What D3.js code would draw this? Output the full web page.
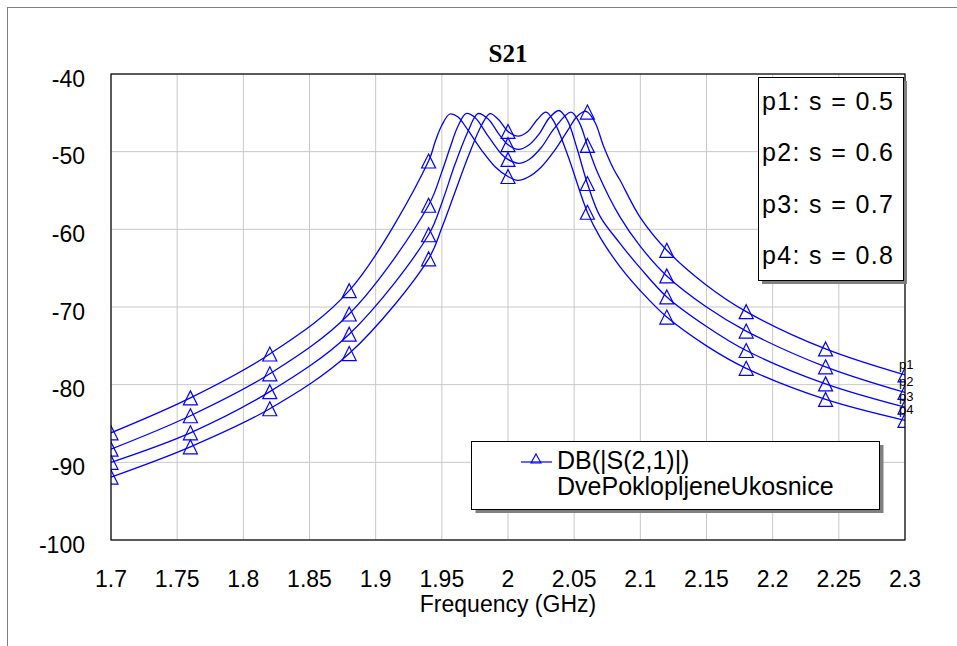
<!DOCTYPE html>
<html>
<head>
<meta charset="utf-8">
<script src="https://cdn.jsdelivr.net/npm/d3@7"></script>
<style>
  body { margin: 0; background: #fff; }
  text { font-family: "Liberation Sans", Arial, sans-serif; }
</style>
</head>
<body>
<div id="chart"></div>
<script>
// Data: [frequency GHz, dB]
const p1Data = [[1.70,-86.2],[1.76,-81.7],[1.82,-76.05],[1.88,-67.9],[1.94,-51.2],[1.945,-48.7],[1.95,-46.6],[1.956,-45.15],[1.962,-45.5],[1.97,-47.3],[1.98,-49.8],[1.99,-51.9],[2.00,-53.2],[2.0075,-53.7],[2.015,-53.3],[2.025,-52.0],[2.035,-49.9],[2.045,-47.3],[2.052,-45.5],[2.058,-44.8],[2.06,-44.9],[2.066,-46.3],[2.072,-49.2],[2.08,-52.3],[2.0846,-53.65],[2.10,-58.5],[2.12,-62.7],[2.15,-67.2],[2.18,-70.6],[2.24,-75.4],[2.30,-78.75]];
const p2Data = [[1.70,-88.3],[1.76,-84.0],[1.82,-78.6],[1.88,-70.9],[1.94,-56.9],[1.95,-52.6],[1.956,-49.6],[1.962,-46.8],[1.9683,-45.1],[1.975,-45.6],[1.985,-48.0],[1.995,-50.3],[2.00,-51.0],[2.008,-51.5],[2.016,-51.0],[2.025,-49.5],[2.035,-47.0],[2.0476,-44.9],[2.054,-46.3],[2.06,-49.2],[2.068,-52.8],[2.0846,-58.4],[2.10,-62.2],[2.12,-66.0],[2.15,-70.0],[2.18,-73.1],[2.24,-77.7],[2.30,-81.0]];
const p3Data = [[1.70,-90.0],[1.76,-86.2],[1.82,-80.9],[1.88,-73.5],[1.94,-60.7],[1.95,-56.6],[1.96,-51.6],[1.97,-47.3],[1.9773,-45.1],[1.985,-45.8],[1.993,-47.7],[2.00,-49.1],[2.008,-49.7],[2.016,-49.1],[2.024,-47.6],[2.031,-45.7],[2.0385,-44.7],[2.045,-46.0],[2.052,-49.5],[2.06,-54.1],[2.0695,-58.3],[2.0846,-61.8],[2.10,-65.0],[2.12,-68.7],[2.15,-72.5],[2.18,-75.6],[2.24,-79.9],[2.30,-82.9]];
const p4Data = [[1.70,-91.9],[1.76,-88.0],[1.82,-83.1],[1.88,-76.0],[1.94,-63.8],[1.95,-59.8],[1.96,-55.2],[1.97,-50.6],[1.98,-46.6],[1.9864,-45.1],[1.993,-45.9],[2.00,-47.4],[2.0076,-48.0],[2.015,-47.4],[2.022,-45.9],[2.0287,-44.9],[2.035,-46.2],[2.045,-50.4],[2.06,-57.8],[2.0695,-61.0],[2.0846,-64.8],[2.10,-67.9],[2.12,-71.3],[2.15,-75.0],[2.18,-77.9],[2.24,-81.9],[2.30,-84.6]];

const seriesNames = ["p1", "p2", "p3", "p4"];
const seriesLabels = ["p1: s = 0.5", "p2: s = 0.6", "p3: s = 0.7", "p4: s = 0.8"];
const markerFreqs = [1.70, 1.76, 1.82, 1.88, 1.94, 2.00, 2.06, 2.12, 2.18, 2.24, 2.30];
const xTicks = [1.7, 1.75, 1.8, 1.85, 1.9, 1.95, 2, 2.05, 2.1, 2.15, 2.2, 2.25, 2.3];
const yTicks = [-40, -50, -60, -70, -80, -90, -100];
const titleText = "S21";
const xTitle = "Frequency (GHz)";
const legendLines = ["DB(|S(2,1)|)", "DvePoklopljeneUkosnice"];

const allSeries = [p1Data, p2Data, p3Data, p4Data];

// Layout
const width = 957, height = 646;
const plot = { left: 111, top: 74, right: 905, bottom: 540 };
const blue = "#0000ff";

const svg = d3.select("#chart")
    .append("svg")
    .attr("width", width)
    .attr("height", height);

// Outer frame (only top and left edges are inside the window)
svg.append("rect")
    .attr("x", 7.5).attr("y", 7.5)
    .attr("width", 1100).attr("height", 1000)
    .attr("fill", "none")
    .attr("stroke", "#808080");

// Scales
const x = d3.scaleLinear().domain([1.7, 2.3]).range([plot.left, plot.right]);
const y = d3.scaleLinear().domain([-100, -40]).range([plot.bottom, plot.top]);

// Grid
svg.append("g").selectAll("line")
    .data(xTicks)
    .enter().append("line")
    .attr("x1", d => x(d)).attr("x2", d => x(d))
    .attr("y1", plot.top).attr("y2", plot.bottom)
    .attr("stroke", "#c8c8c8");

svg.append("g").selectAll("line")
    .data(yTicks)
    .enter().append("line")
    .attr("x1", plot.left).attr("x2", plot.right)
    .attr("y1", d => y(d)).attr("y2", d => y(d))
    .attr("stroke", "#c8c8c8");

// Tick labels
svg.append("g").selectAll("text")
    .data(yTicks)
    .enter().append("text")
    .attr("x", 85)
    .attr("y", d => y(d) + 12.5)
    .attr("text-anchor", "end")
    .style("font-size", "23px")
    .text(d => d);

svg.append("g").selectAll("text")
    .data(xTicks)
    .enter().append("text")
    .attr("x", d => x(d))
    .attr("y", plot.bottom + 47)
    .attr("text-anchor", "middle")
    .style("font-size", "23px")
    .text(d => String(d));

// Axis title and chart title
svg.append("text")
    .attr("x", (plot.left + plot.right) / 2)
    .attr("y", 612)
    .attr("text-anchor", "middle")
    .style("font-size", "23px")
    .text(xTitle);

svg.append("text")
    .attr("x", (plot.left + plot.right) / 2)
    .attr("y", 62)
    .attr("text-anchor", "middle")
    .style("font-family", "'Liberation Serif', 'Times New Roman', serif")
    .style("font-size", "25px")
    .style("font-weight", "bold")
    .text(titleText);

// Clip to plot area
svg.append("clipPath").attr("id", "plotClip")
    .append("rect")
    .attr("x", plot.left).attr("y", plot.top)
    .attr("width", plot.right - plot.left)
    .attr("height", plot.bottom - plot.top);

const curves = svg.append("g").attr("clip-path", "url(#plotClip)");

const line = d3.line()
    .x(d => x(d[0]))
    .y(d => y(d[1]))
    .curve(d3.curveCatmullRom.alpha(0.5));

const tri = "M0,-7L7,7L-7,7Z";

allSeries.forEach(data => {
    curves.append("path")
        .datum(data)
        .attr("d", line)
        .attr("fill", "none")
        .attr("stroke", blue)
        .attr("stroke-width", 1.3);

    curves.selectAll(null)
        .data(data.filter(d => markerFreqs.some(f => Math.abs(f - d[0]) < 1e-6)))
        .enter().append("path")
        .attr("d", tri)
        .attr("transform", d => `translate(${x(d[0])},${y(d[1])})`)
        .attr("fill", "none")
        .attr("stroke", blue)
        .attr("stroke-width", 1.2);
});

// Plot frame
svg.append("rect")
    .attr("x", plot.left).attr("y", plot.top)
    .attr("width", plot.right - plot.left)
    .attr("height", plot.bottom - plot.top)
    .attr("fill", "none")
    .attr("stroke", "#000")
    .attr("stroke-width", 1.2);

// Series end labels
allSeries.forEach((data, i) => {
    const last = data[data.length - 1];
    svg.append("text")
        .attr("x", x(last[0]) - 6)
        .attr("y", y(last[1]) - 6)
        .style("font-size", "13px")
        .text(seriesNames[i]);
});

// Parameter legend (top right)
svg.append("rect")
    .attr("x", 762).attr("y", 81)
    .attr("width", 145).attr("height", 203)
    .attr("fill", "#808080");
svg.append("rect")
    .attr("x", 758.5).attr("y", 77.5)
    .attr("width", 145).attr("height", 203)
    .attr("fill", "#fff")
    .attr("stroke", "#000");

svg.append("g").selectAll("text")
    .data(seriesLabels)
    .enter().append("text")
    .attr("x", 762)
    .attr("y", (d, i) => 109.5 + i * 51.5)
    .attr("textLength", 131)
    .attr("lengthAdjust", "spacing")
    .style("font-size", "25px")
    .text(d => d);

// Measurement legend (bottom)
svg.append("rect")
    .attr("x", 475.5).attr("y", 445)
    .attr("width", 408).attr("height", 68)
    .attr("fill", "#808080");
svg.append("rect")
    .attr("x", 471.5).attr("y", 441.5)
    .attr("width", 408).attr("height", 68)
    .attr("fill", "#fff")
    .attr("stroke", "#000");

svg.append("line")
    .attr("x1", 521).attr("x2", 552)
    .attr("y1", 462).attr("y2", 462)
    .attr("stroke", blue)
    .attr("stroke-width", 1.2);
svg.append("path")
    .attr("d", "M0,-5L5,4L-5,4Z")
    .attr("transform", "translate(536,459)")
    .attr("fill", "none")
    .attr("stroke", blue)
    .attr("stroke-width", 1.1);

svg.append("g").selectAll("text")
    .data(legendLines)
    .enter().append("text")
    .attr("x", 557)
    .attr("y", (d, i) => 469 + i * 26)
    .style("font-size", "25px")
    .text(d => d);
</script>
</body>
</html>
